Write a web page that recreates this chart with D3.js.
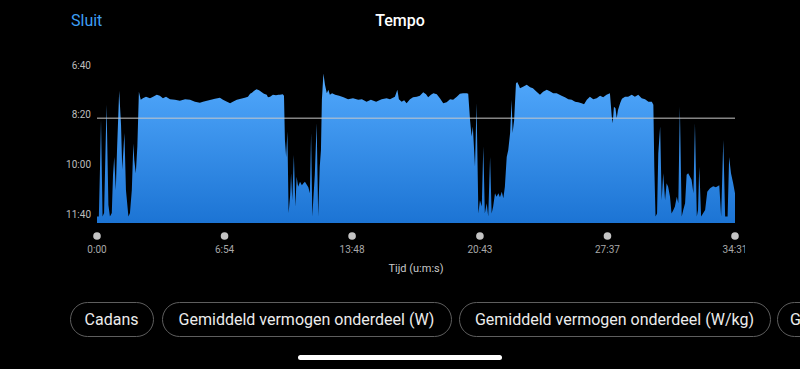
<!DOCTYPE html>
<html><head><meta charset="utf-8">
<script src="https://cdn.jsdelivr.net/npm/d3@7"></script>
<style>
html,body{margin:0;padding:0;background:#000;overflow:hidden;}
svg{display:block;}
</style></head>
<body>
<svg id="c" width="800" height="369"></svg>
<script>
// ---- data ----
const timeSec = [0,6,10,13,18,23,31,37,42,48,52,56,61,65,72,78,82,89,94,102,107,113,118,121,126,131,136,142,149,159,172,182,194,204,214,224,237,253,269,286,302,318,334,344,357,370,383,399,409,422,432,441,454,467,480,490,497,503,510,518,526,535,542,551,555,562,571,581,589,594,603,607,610,614,618,622,627,630,634,639,644,648,653,659,665,670,675,682,686,691,695,699,702,707,713,718,723,727,730,735,740,746,751,756,763,773,786,800,815,831,848,860,875,889,906,924,940,951,967,975,980,989,997,1005,1016,1026,1038,1048,1059,1068,1075,1084,1092,1103,1113,1124,1135,1146,1156,1168,1178,1188,1200,1205,1211,1216,1220,1227,1232,1238,1243,1249,1254,1259,1265,1270,1276,1281,1286,1292,1297,1303,1308,1314,1319,1324,1330,1335,1341,1346,1349,1354,1360,1364,1370,1373,1383,1395,1406,1415,1427,1438,1448,1460,1470,1481,1492,1508,1519,1530,1541,1552,1562,1573,1581,1590,1600,1611,1622,1633,1643,1654,1665,1671,1674,1678,1683,1687,1691,1698,1704,1714,1724,1736,1746,1757,1768,1779,1790,1801,1806,1809,1813,1818,1822,1828,1833,1838,1844,1849,1854,1860,1865,1871,1876,1882,1887,1892,1898,1903,1909,1914,1919,1925,1930,1936,1941,1947,1951,1955,1961,1967,1974,1981,1990,2000,2009,2020,2026,2033,2039,2047,2052,2058,2065,2071];
const paceSec = [705,705,601,511,705,698,480,682,705,698,621,585,652,571,452,521,611,537,652,705,698,652,558,591,618,564,454,470,467,464,467,464,460,462,467,464,469,470,472,469,470,474,476,474,472,470,468,466,470,474,477,474,470,468,466,464,458,456,452,449,451,455,458,460,465,464,460,461,460,460,459,462,551,585,534,698,662,618,672,581,685,625,645,635,642,638,635,642,646,658,537,705,672,621,517,705,605,571,470,417,440,457,450,460,457,460,462,465,469,467,470,469,474,470,474,469,467,469,464,450,469,474,471,477,469,465,464,462,455,459,465,460,457,459,467,477,475,469,470,464,458,457,457,458,511,544,524,605,477,699,672,685,564,699,678,705,585,699,685,658,665,658,666,655,668,645,585,571,537,470,537,511,437,434,442,447,444,440,445,447,454,460,454,450,453,457,457,462,465,469,470,474,475,477,479,470,464,469,467,462,465,460,457,504,517,484,487,507,491,477,468,464,464,460,464,460,467,469,474,474,480,605,705,699,578,524,672,618,672,638,645,665,699,692,685,665,678,484,705,692,678,621,618,625,631,658,517,705,692,605,705,699,692,655,648,644,646,642,705,551,705,705,585,618,638,658];
const avgPace = 507;
const yTickValues = [400, 500, 600, 700];
const yTickLabels = ["6:40", "8:20", "10:00", "11:40"];
const xTickValues = [0, 414, 828, 1243, 1657, 2071];
const xTickLabels = ["0:00", "6:54", "13:48", "20:43", "27:37", "34:31"];
const chips = ["Cadans", "Gemiddeld vermogen onderdeel (W)", "Gemiddeld vermogen onderdeel (W/kg)", "Gemiddeld"];
const chipX = [70, 162, 459, 777];
const chipW = [83, 289, 311, 120];

// ---- drawing ----
const svg = d3.select("#c");
const font = "Roboto, 'Liberation Sans', sans-serif";
const data = timeSec.map((t, i) => ({t, p: paceSec[i]}));

const x = d3.scaleLinear().domain([0, 2071]).range([97, 735]);
const y = d3.scaleLinear().domain([400, 718]).range([65, 223]);

const defs = svg.append("defs");
const grad = defs.append("linearGradient").attr("id", "g")
  .attr("gradientUnits", "userSpaceOnUse").attr("x1", 0).attr("x2", 0)
  .attr("y1", y(400)).attr("y2", y(718));
grad.append("stop").attr("offset", 0).attr("stop-color", "#55acff");
grad.append("stop").attr("offset", 1).attr("stop-color", "#1c74d4");
defs.append("clipPath").attr("id", "xclip").append("rect")
  .attr("x", 0).attr("y", 0).attr("width", 745).attr("height", 369);

// header
svg.append("text").attr("x", 71).attr("y", 26).attr("fill", "#3d9ff5")
  .attr("font-family", font).attr("font-size", 16).text("Sluit");
svg.append("text").attr("x", 400).attr("y", 26).attr("fill", "#fff")
  .attr("text-anchor", "middle").attr("font-family", font)
  .attr("font-weight", 500).attr("font-size", 16).text("Tempo");

// area
const area = d3.area().x(d => x(d.t)).y0(y(718)).y1(d => y(d.p));
svg.append("path").datum(data).attr("d", area).attr("fill", "url(#g)");

// average line
svg.append("line").attr("x1", x(0)).attr("x2", x(2071))
  .attr("y1", y(avgPace)).attr("y2", y(avgPace))
  .attr("stroke", "#c8c8c8").attr("stroke-width", 1);

// y axis
const yAxis = d3.axisLeft(y).tickValues(yTickValues)
  .tickFormat((d, i) => yTickLabels[i]).tickSize(0).tickPadding(0);
const gy = svg.append("g").attr("transform", "translate(91,0)").call(yAxis);
gy.select(".domain").remove();
gy.selectAll("text").attr("fill", "#bdbdbd").attr("font-family", font).attr("font-size", 10);

// x axis
const gx = svg.append("g").attr("clip-path", "url(#xclip)");
gx.selectAll("circle").data(xTickValues).join("circle")
  .attr("cx", d => x(d)).attr("cy", 236).attr("r", 3.8).attr("fill", "#c4c4c4");
gx.selectAll("text").data(xTickValues).join("text")
  .attr("x", d => x(d)).attr("y", 253).attr("text-anchor", "middle")
  .attr("fill", "#a8a8a8").attr("font-family", font).attr("font-size", 10)
  .text((d, i) => xTickLabels[i]);
svg.append("text").attr("x", 416).attr("y", 272).attr("text-anchor", "middle")
  .attr("fill", "#c8c8c8").attr("font-family", font).attr("font-size", 11)
  .text("Tijd (u:m:s)");

// chips
const cg = svg.selectAll("g.chip").data(chips).join("g").attr("class", "chip");
cg.append("rect").attr("x", (d, i) => chipX[i] + 0.5).attr("y", 302.5)
  .attr("width", (d, i) => chipW[i]).attr("height", 34).attr("rx", 17)
  .attr("fill", "none").attr("stroke", "#5e5e5e").attr("stroke-width", 1);
cg.append("text").attr("x", (d, i) => i < 3 ? chipX[i] + chipW[i] / 2 : chipX[i] + 13)
  .attr("y", 325).attr("text-anchor", (d, i) => i < 3 ? "middle" : "start")
  .attr("fill", "#ececec").attr("font-family", font).attr("font-size", 16)
  .text(d => d);

// home indicator
svg.append("rect").attr("x", 298).attr("y", 355).attr("width", 204).attr("height", 5)
  .attr("rx", 2.5).attr("fill", "#fff");
</script>
</body></html>
